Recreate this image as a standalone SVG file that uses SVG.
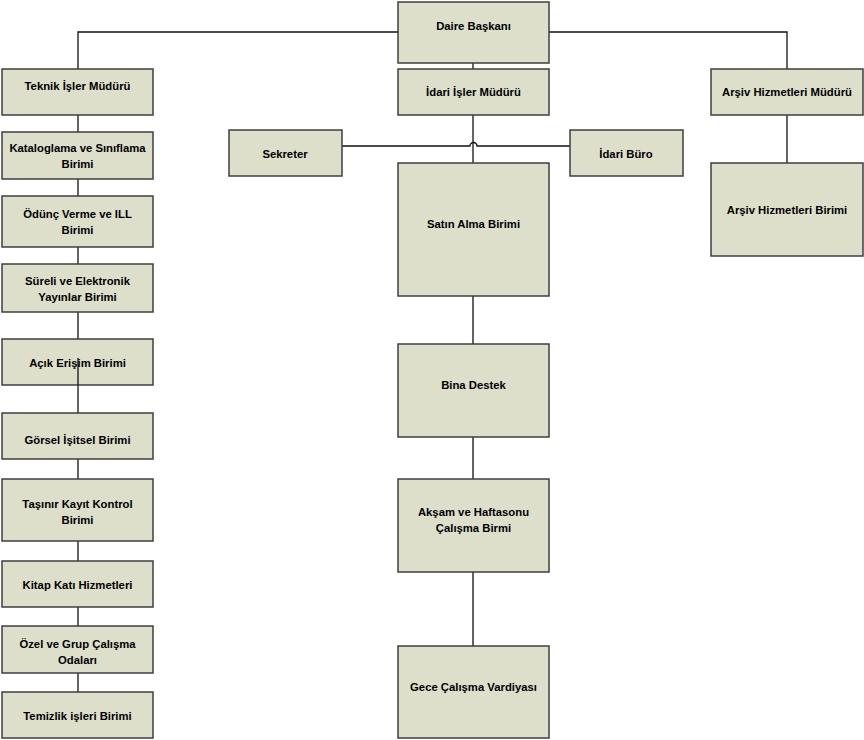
<svg xmlns="http://www.w3.org/2000/svg" width="864" height="740" viewBox="0 0 864 740">
<style>
.box{fill:#dddfcb;stroke:#3f3f3f;stroke-width:1.5}
.t{font-family:"Liberation Sans",Arial,sans-serif;font-weight:bold;font-size:11.3px;fill:#000;text-anchor:middle;dominant-baseline:central}
.c{fill:none;stroke:#111;stroke-width:1.3}
</style>
<rect width="864" height="740" fill="#fff"/>
<g id="connectors">
<path class="c" d="M78,69 V32 H398 M549,32 H787 V69"/>
<path class="c" d="M473,62 V69"/>
<path class="c" d="M78,115 V692"/>
<path class="c" d="M473,115 V163"/>
<path class="c" d="M342,146 H470 A3.5,3.5 0 0 1 477,146 H570"/>
<path class="c" d="M473,296 V344 M473,437 V479 M473,572 V646"/>
<path class="c" d="M787,115 V163"/>
</g>
<g id="daire"><rect class="box" x="398" y="2" width="151" height="61"/><text class="t" x="473.5" y="26">Daire Başkanı</text></g>
<g id="idari"><rect class="box" x="398" y="69" width="151" height="46"/><text class="t" x="473.5" y="92">İdari İşler Müdürü</text></g>
<g id="teknik"><rect class="box" x="2" y="69" width="151" height="46"/><text class="t" x="77.5" y="86">Teknik İşler Müdürü</text></g>
<g id="arsivmudur"><rect class="box" x="711" y="69" width="152" height="46"/><text class="t" x="787" y="92">Arşiv Hizmetleri Müdürü</text></g>
<g id="sekreter"><rect class="box" x="229" y="130" width="113" height="46"/><text class="t" x="285" y="154">Sekreter</text></g>
<g id="buro"><rect class="box" x="570" y="130" width="113" height="46"/><text class="t" x="626" y="154">İdari Büro</text></g>
<g id="katalog"><rect class="box" x="2" y="132" width="151" height="47"/><text class="t" x="77.5" y="148">Kataloglama ve Sınıflama</text><text class="t" x="77.5" y="164">Birimi</text></g>
<g id="odunc"><rect class="box" x="2" y="196" width="151" height="51"/><text class="t" x="77.5" y="214">Ödünç Verme ve ILL</text><text class="t" x="77.5" y="230">Birimi</text></g>
<g id="sureli"><rect class="box" x="2" y="264" width="151" height="48"/><text class="t" x="77.5" y="281">Süreli ve Elektronik</text><text class="t" x="77.5" y="297">Yayınlar Birimi</text></g>
<g id="acik"><rect class="box" x="2" y="339" width="151" height="46"/><text class="t" x="77.5" y="363">Açık Erişim Birimi</text><path class="c" d="M78,358 V385"/></g>
<g id="gorsel"><rect class="box" x="2" y="413" width="151" height="46"/><text class="t" x="77.5" y="440">Görsel İşitsel Birimi</text></g>
<g id="tasinir"><rect class="box" x="2" y="479" width="151" height="62"/><text class="t" x="77.5" y="504">Taşınır Kayıt Kontrol</text><text class="t" x="77.5" y="520">Birimi</text></g>
<g id="kitap"><rect class="box" x="2" y="561" width="151" height="46"/><text class="t" x="77.5" y="585">Kitap Katı Hizmetleri</text></g>
<g id="ozel"><rect class="box" x="2" y="626" width="151" height="47"/><text class="t" x="77.5" y="644">Özel ve Grup Çalışma</text><text class="t" x="77.5" y="660">Odaları</text></g>
<g id="temizlik"><rect class="box" x="2" y="692" width="151" height="46"/><text class="t" x="77.5" y="716">Temizlik işleri Birimi</text></g>
<g id="satin"><rect class="box" x="398" y="163" width="151" height="133"/><text class="t" x="473.5" y="224">Satın Alma Birimi</text></g>
<g id="bina"><rect class="box" x="398" y="344" width="151" height="93"/><text class="t" x="473.5" y="385">Bina Destek</text></g>
<g id="aksam"><rect class="box" x="398" y="479" width="151" height="93"/><text class="t" x="473.5" y="512">Akşam ve Haftasonu</text><text class="t" x="473.5" y="528">Çalışma Birmi</text></g>
<g id="gece"><rect class="box" x="398" y="646" width="151" height="92"/><text class="t" x="473.5" y="687">Gece Çalışma Vardiyası</text></g>
<g id="arsivbirim"><rect class="box" x="711" y="163" width="152" height="93"/><text class="t" x="787" y="210">Arşiv Hizmetleri Birimi</text></g>
</svg>
